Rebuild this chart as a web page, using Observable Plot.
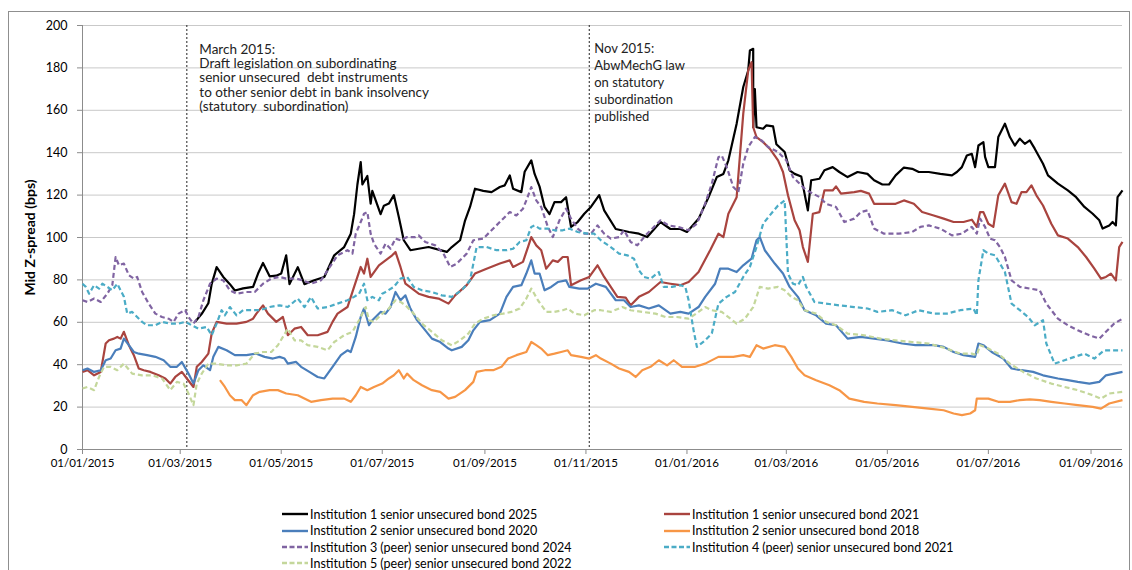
<!DOCTYPE html>
<html><head><meta charset="utf-8">
<script src="https://cdn.jsdelivr.net/npm/d3@7"></script>
<script src="https://cdn.jsdelivr.net/npm/@observablehq/plot@0.6"></script>
<style>
body{margin:0;background:#fff;font-family:Lato,sans-serif;}
#wrap{position:relative;width:1132px;height:570px;overflow:hidden;background:#fff;}
#frame{position:absolute;left:8px;top:11px;width:1122px;height:600px;border:1px solid #8f8f8f;box-sizing:border-box;}
#chart{position:absolute;left:0;top:0;}
#legend{position:absolute;left:0;top:0;width:1132px;height:570px;}
.item{position:absolute;font-size:12.5px;color:#000;white-space:nowrap;display:flex;align-items:center;height:16px;}
.item svg{margin-right:2px;}
#chart svg text{white-space:pre;}
#chart [aria-label="y-axis tick"], #chart [aria-label="x-axis tick"]{stroke:#8c8c8c;}
#chart [aria-label="y-axis label"]{font-weight:bold;font-size:14px;}
</style></head>
<body>
<div id="wrap"><div id="frame"></div><div id="chart"></div><div id="legend"></div></div>
<script>
// x positions are days since 01/01/2015, values are Mid Z-spread in bps
const startDate = "2015-01-01";
const endDay = 628;
const seriesNames = [
  "Institution 1 senior unsecured bond 2025",
  "Institution 1 senior unsecured bond 2021",
  "Institution 2 senior unsecured bond 2020",
  "Institution 2 senior unsecured bond 2018",
  "Institution 3 (peer) senior unsecured bond 2024",
  "Institution 4 (peer) senior unsecured bond 2021",
  "Institution 5 (peer) senior unsecured bond 2022"
];
const seriesColors = ["#000000","#a9443f","#4a7ebb","#f79646","#8064a2","#4bacc6","#c4d79b"];
const seriesDashed = [false,false,false,false,true,true,true];

const inst1_2025 = [[68,60.2],[72,64],[76,69],[78,78],[81,86],[85,81.4],[89,78],[92,75],[97,76],[103,76.7],[106,83],[109,88],[113,81.7],[117,82],[120,83],[123,91.6],[125,78],[130,86],[134,78],[140,79.8],[146,81.4],[152,91.6],[158,95.5],[162,101.8],[164,111],[166,125],[168,135.6],[169,125],[172,129],[174,116],[175,122],[180,111],[182,115],[185,116],[188,120],[191,109.7],[194,98.7],[198,94],[203,94.7],[209,95.5],[215,94.3],[220,93.2],[223,95.5],[228,98.7],[231,108],[234,114.4],[237,123],[242,122],[247,121.4],[252,123.8],[255,124.6],[258,129.3],[260,123],[265,121.4],[267,131],[271,136.4],[273,130],[276,124],[279,114.4],[282,111],[285,116.7],[289,116.7],[292,119],[295,105],[299,107.3],[303,111.2],[307,114.4],[312,120],[315,112.8],[322,104],[330,102.6],[336,101.8],[341,100.2],[349,107.3],[355,104],[361,104],[365,102.6],[372,108.8],[378,119],[383,128.5],[387,130],[390,136.4],[395,153.7],[399,171],[402,178.8],[403,188.2],[405,189],[405,152],[406,170],[407,152],[411,151.3],[413,152.9],[417,152.4],[419,144],[424,140.3],[427,131.7],[430,130],[434,128.8],[436,120.7],[438,112.8],[440,127],[445,127.7],[448,131.7],[453,133.2],[457,130.9],[462,128.5],[468,130.9],[474,130],[478,127],[483,125],[487,125],[491,129.3],[496,133],[501,132.4],[505,130.9],[511,130.9],[518,130],[525,129.3],[528,130.9],[531,133.2],[534,138.7],[537,139.5],[539,133.2],[541,143.4],[544,145],[545,138],[547,133.2],[551,133.2],[553,147.4],[557,153.7],[560,147.4],[563,143.4],[566,146.6],[569,144.2],[572,145.8],[575,141.9],[580,134.8],[583,129.3],[589,125.4],[595,122.2],[600,119],[605,114.4],[610,111.2],[614,108.1],[616,104.2],[620,105.7],[622,107.3],[624,105.7],[625,119],[628,122.2]];

const inst1_2021 = [[0,36.6],[3,37.4],[7,35],[11,36.6],[14,50],[16,51.5],[19,52.3],[21,53.1],[23,52.3],[25,55.5],[28,49.2],[31,44.5],[34,38.2],[37,37.4],[41,36.6],[46,35],[50,33.5],[53,31.1],[56,34.2],[60,36.6],[63,33.5],[67,29.5],[69,39],[72,41.3],[76,45.2],[78,54.7],[81,60.2],[87,59.4],[93,59.4],[99,60.2],[103,61.7],[105,64.1],[109,68],[112,64.1],[117,60.2],[121,62.5],[124,53.9],[128,57],[132,57.8],[136,53.9],[142,53.9],[148,55.5],[151,60.2],[154,64.1],[160,67.2],[164,76.7],[168,86.1],[170,83],[172,90],[174,81.4],[179,86.9],[183,89.2],[187,91.6],[189,93.2],[192,86.1],[195,78.2],[199,75.9],[203,73.5],[209,72],[215,71.2],[221,68.8],[225,72.7],[232,77.5],[237,83],[244,85.3],[252,87.7],[258,89.2],[260,86.1],[266,88.5],[269,95.5],[271,100.2],[274,96.3],[277,94],[280,85.3],[284,89.2],[287,88.5],[290,90.8],[293,90.8],[295,77.5],[301,79.8],[306,81.4],[311,86.9],[315,81.4],[319,76.7],[323,72],[328,71.6],[331,68],[336,72],[342,74.3],[349,79],[355,78.2],[361,77.5],[366,79],[372,83.7],[379,94],[384,101.8],[387,100.2],[390,111.2],[395,119],[399,158.4],[402,178.8],[404,182.7],[405,152],[407,147.4],[411,145],[415,141.9],[420,136.4],[423,130.9],[426,119.9],[430,108.1],[433,103.4],[435,95.5],[438,88.5],[441,111.2],[445,112],[448,122.2],[453,122.2],[455,124.1],[458,120.7],[466,121.4],[470,122],[475,120.7],[478,115.9],[484,115.9],[491,115.9],[496,117.5],[502,115.9],[507,112],[514,110.4],[520,108.9],[526,107.3],[532,107.3],[537,108.4],[540,105],[542,112],[544,112],[547,106.5],[550,105],[553,119.9],[557,125.4],[561,116.7],[564,115.9],[567,121.4],[570,121.4],[573,124.6],[576,119.9],[580,115.1],[585,106.5],[589,101],[595,99.5],[601,95.5],[606,90.8],[611,85.3],[615,80.6],[618,81.4],[621,83],[624,79.8],[626,95.5],[628,97.9]];

const inst2_2020 = [[0,37.4],[3,38.2],[7,36.6],[11,37.4],[14,42.1],[17,42.9],[20,46.8],[23,47.6],[25,52.3],[28,49.2],[31,46],[34,45.2],[39,44.5],[44,43.7],[49,42.1],[53,39],[57,39],[60,41.3],[64,35.8],[67,31.1],[70,37.4],[73,39.7],[77,37.4],[79,43.7],[82,48.4],[87,46.8],[92,44.5],[99,44.5],[105,45.2],[110,43.7],[115,42.9],[119,43.7],[122,42.9],[124,40.5],[129,41.3],[132,39],[137,36.6],[142,34.2],[146,33.5],[151,39],[156,44.5],[160,46.8],[162,46],[165,53.1],[168,62.5],[170,66.5],[173,58.6],[175,61],[180,64.9],[183,64.1],[186,67.2],[189,74.3],[192,70.4],[195,72.7],[198,66.5],[202,61],[207,56.2],[211,52.3],[216,50.7],[221,47.6],[223,46.8],[229,48.4],[233,51.5],[236,56.2],[240,60.2],[246,61],[252,64.1],[256,72],[260,76.7],[265,77.5],[268,83],[271,89.2],[273,83],[276,83],[279,75.1],[283,76.7],[287,79],[292,79.8],[294,76.7],[300,75.9],[305,75.9],[310,78.2],[316,76.7],[322,70.4],[327,70.4],[331,67.2],[336,68],[342,66.5],[348,68],[355,64.1],[361,64.9],[366,64.1],[372,67.2],[376,72],[382,78.2],[385,85.3],[390,85.3],[395,83.7],[399,86.9],[404,90],[407,98.7],[409,100.2],[412,94],[418,87.7],[423,83],[427,76.7],[432,72],[436,65.7],[443,63.3],[449,59.4],[455,58.6],[462,52.3],[470,53.1],[478,52.3],[486,51.5],[495,50],[503,49.2],[514,49.2],[520,48.4],[526,46],[532,44.5],[539,43.7],[541,50],[544,49.2],[549,46],[556,42.9],[561,38.2],[567,37.4],[574,36.6],[580,35],[589,33.5],[595,32.7],[601,31.9],[608,31.1],[614,31.9],[618,35],[623,35.8],[628,36.6]];

const inst2_2018 = [[83,32.7],[86,29.5],[89,25.6],[92,23.3],[96,23.3],[99,20.9],[103,25.6],[107,27.2],[113,28],[118,28],[123,26.4],[130,25.6],[138,22.5],[144,23.3],[151,24],[158,24],[162,22.5],[165,25.6],[168,29.5],[172,28],[176,29.5],[181,31.1],[185,33.5],[188,35],[191,37.4],[194,33.5],[196,35.8],[200,32.7],[205,30.3],[211,28],[216,27.2],[221,24],[225,24.8],[231,28],[236,31.9],[238,36.6],[243,37.4],[248,37.4],[253,39],[257,42.9],[262,44.5],[268,46],[271,50.7],[274,49.2],[277,47.6],[281,44.5],[285,45.2],[289,46],[293,46.8],[295,44.5],[301,43.7],[306,42.9],[310,44.5],[313,42.9],[319,40.5],[324,38.2],[330,36.6],[334,34.2],[338,37.4],[343,39],[348,42.1],[353,39.7],[357,42.1],[362,39],[370,39],[376,40.5],[384,43.7],[393,43.7],[399,44.5],[403,43.7],[407,49.2],[411,47.6],[418,49.2],[424,48.4],[428,43.7],[432,38.2],[436,35],[443,32.7],[451,30.3],[457,28],[463,24],[472,22.5],[480,21.7],[491,20.9],[501,20.1],[511,19.3],[520,18.5],[526,17],[531,16.2],[536,17],[539,18.5],[540,24],[547,24],[553,22.5],[560,22.5],[566,23.3],[572,23.6],[578,23.3],[585,22.5],[593,21.7],[601,20.9],[610,20.1],[615,19.3],[620,21.7],[628,23.3]];

const inst3_2024 = [[0,70.4],[3,69.6],[7,71.2],[11,69.6],[15,73.5],[18,77.5],[20,90.8],[22,86.9],[25,87.7],[28,82.2],[31,80.6],[33,81.4],[36,74.3],[40,68.8],[44,64.1],[48,62.5],[52,61.7],[55,60.2],[58,64.1],[62,65.7],[64,62.5],[67,59.4],[70,62.5],[73,70.4],[77,78.2],[81,80.6],[85,79.8],[89,75.1],[93,73.5],[99,74.3],[104,74.3],[109,78.2],[114,80.6],[119,81.4],[123,80.6],[129,80.6],[133,79.8],[138,78.2],[144,79.8],[148,84.5],[154,91.6],[160,94],[163,92.4],[165,101.8],[168,107.3],[170,111.2],[172,112],[174,101.8],[176,97.1],[180,92.4],[183,97.1],[186,94.7],[189,99.5],[192,98.7],[196,100.2],[201,100.2],[203,101],[207,97.9],[213,96.3],[218,92.4],[222,86.1],[226,87.7],[232,92.4],[236,98.7],[242,99.5],[247,103.4],[253,108.1],[258,112],[262,110.4],[266,113.6],[268,117.5],[271,123.8],[274,117.5],[277,114.4],[281,105],[284,100.2],[288,108.1],[292,113.6],[295,108.9],[299,104.2],[303,101.8],[307,101.8],[311,105.7],[315,101.8],[319,99.5],[324,100.2],[327,103.4],[331,97.9],[335,96.3],[340,101],[346,105.7],[349,108.1],[354,105.7],[360,104.9],[366,103.4],[371,106.5],[376,116],[380,125.4],[384,137.9],[386,138.7],[389,133.2],[393,123.8],[396,121.4],[399,134.8],[402,142.7],[406,147.4],[410,145.8],[414,142.7],[420,140.3],[425,136.4],[429,128.5],[432,126.2],[436,123],[441,120.7],[445,119.1],[449,115.9],[455,114.4],[460,107.3],[466,108.9],[470,112],[474,112.8],[478,104.2],[484,101.8],[493,101.8],[501,102.6],[506,105],[511,105.7],[518,104.2],[525,101],[531,101.8],[537,105],[540,101.8],[542,108.9],[545,105],[548,99.5],[551,98.7],[554,95.5],[557,90.8],[561,79.8],[566,76.7],[572,75.9],[578,75.1],[582,68.8],[589,61.7],[595,58.6],[601,56.2],[608,53.9],[614,52.3],[618,55.5],[623,59.4],[628,61.7]];

const inst4_2021 = [[0,78.2],[2,76.7],[4,73.5],[7,77.5],[10,75.9],[12,78.2],[15,76.7],[18,75.1],[21,78.2],[25,72],[27,64.1],[30,64.9],[33,62.5],[36,60.2],[39,58.6],[44,58.6],[48,60.2],[53,59.4],[58,59.4],[62,60.2],[66,58.6],[70,57],[75,57.8],[78,53.9],[81,59.4],[84,65.7],[86,63.3],[89,67.2],[93,63.3],[97,65.7],[102,65.7],[107,65.7],[113,67.2],[119,68],[124,67.2],[130,71.2],[134,67.2],[138,71.9],[142,66.5],[148,67.2],[154,68.8],[160,70.4],[164,72],[167,73.5],[170,78.2],[172,70.4],[175,72],[179,70.4],[181,73.5],[183,74.3],[188,76.7],[192,80.6],[196,81.4],[200,76.7],[205,75.1],[211,74.3],[217,72.7],[223,72],[229,75.1],[234,79.8],[238,95.5],[244,95.5],[250,94],[256,94],[260,94.7],[264,97.9],[268,98.7],[271,105],[273,105.7],[276,104.2],[281,104.2],[285,103.4],[290,103.4],[294,104.2],[299,102.6],[305,101.8],[309,101.8],[313,98.7],[319,95.5],[324,92.4],[329,91.6],[333,90],[336,84.5],[339,81.4],[343,80.6],[348,83.7],[351,76.7],[356,76.7],[361,77.5],[364,76.7],[366,70.4],[369,56.2],[371,48.4],[376,51.5],[380,54.7],[384,68.8],[389,72],[394,74.3],[399,81.4],[403,86.1],[407,95.5],[411,106.5],[415,110.4],[420,115.1],[424,117.5],[426,83],[429,78.2],[432,77.5],[435,81.4],[437,76.7],[442,69.6],[449,68.8],[457,68],[466,67.2],[474,66.5],[480,64.9],[489,65.7],[497,63.3],[505,65.7],[514,64.1],[522,64.1],[530,65.7],[538,66.5],[540,63.3],[541,79.8],[544,94],[547,92.4],[551,91.6],[554,87.7],[557,83.7],[561,68.8],[566,65.7],[571,62.5],[575,58.6],[580,61],[582,50],[587,40.5],[593,42.1],[599,43.7],[605,45.2],[611,42.9],[617,46.8],[622,46.8],[628,46.8]];

const inst5_2022 = [[0,28.8],[3,29.5],[7,28],[10,34.2],[13,39],[17,39],[21,37.4],[25,40.5],[30,35.8],[36,35],[42,35],[48,33.5],[53,28],[57,31.9],[61,31.1],[64,26.4],[67,20.9],[69,31.1],[72,35.8],[76,40.5],[81,40.5],[87,39.7],[93,39.7],[99,40.5],[104,45.2],[109,46],[114,46],[118,49.2],[121,53.1],[124,57],[128,51.5],[132,51.5],[136,49.2],[142,48.4],[148,46.8],[152,50.7],[158,53.9],[163,55.5],[167,61],[171,67.2],[173,61],[176,60.2],[181,64.1],[185,66.5],[189,70.4],[192,69.6],[195,68],[200,64.1],[205,59.4],[211,55.5],[217,51.5],[223,49.2],[228,51.5],[233,54.7],[237,59.4],[242,61.7],[248,63.3],[254,64.1],[259,64.9],[264,66.5],[268,71.2],[271,75.9],[275,70.4],[280,64.9],[285,64.9],[290,65.7],[293,66.5],[297,64.1],[303,63.3],[309,65.7],[313,65.7],[319,64.9],[326,67.2],[331,65.7],[338,64.9],[346,64.1],[352,62.5],[359,62.5],[366,61.7],[372,64.9],[376,67.2],[380,65.7],[386,64.9],[395,59.4],[400,61.7],[405,67.2],[409,76.7],[414,75.9],[420,76.7],[424,75.1],[428,72],[432,70.4],[436,65.7],[443,64.1],[449,60.2],[455,58.6],[462,54.7],[472,53.9],[482,52.3],[491,51.5],[501,50.7],[511,50],[522,47.6],[530,45.2],[537,45.2],[540,44.5],[542,49.2],[547,47.6],[553,45.2],[560,40.5],[568,36.6],[576,33.5],[585,31.1],[593,29.5],[601,28],[610,25.6],[615,24],[620,26.4],[628,27.2]];

const seriesData = [inst1_2025, inst1_2021, inst2_2020, inst2_2018, inst3_2024, inst4_2021, inst5_2022];

const yTicks = [0,20,40,60,80,100,120,140,160,180,200];
const xTickDates = ["2015-01-01","2015-03-01","2015-05-01","2015-07-01","2015-09-01","2015-11-01","2016-01-01","2016-03-01","2016-05-01","2016-07-01","2016-09-01"];
const eventDates = ["2015-03-05","2015-11-03"];
const eventLabels = [
  "March 2015:\nDraft legislation on subordinating\nsenior unsecured  debt instruments\nto other senior debt in bank insolvency\n(statutory  subordination)",
  "Nov 2015:\nAbwMechG law\non statutory\nsubordination\npublished"
];

const start = new Date(startDate + "T00:00:00Z");
const toDate = d => d3.utcDay.offset(start, d);
const parse = s => new Date(s + "T00:00:00Z");

const lineMarks = seriesData.map((data, i) => Plot.line(data, {
  x: d => toDate(d[0]), y: d => d[1],
  stroke: seriesColors[i], strokeWidth: 2.2,
  strokeDasharray: seriesDashed[i] ? "5,3" : null,
  strokeLinejoin: "round", strokeLinecap: "butt"
}));

const events = eventDates.map((d, i) => ({date: parse(d), label: eventLabels[i]}));

const chart = Plot.plot({
  width: 1132, height: 485,
  marginLeft: 82, marginRight: 10, marginTop: 25, marginBottom: 36,
  style: {fontFamily: "Lato, sans-serif", fontSize: "12px", background: "transparent", overflow: "visible", color: "#000"},
  x: {type: "utc", domain: [start, toDate(endDay)]},
  y: {domain: [0, 200]},
  marks: [
    Plot.gridY(yTicks, {stroke: "#c9c9c9", strokeOpacity: 1, strokeWidth: 1}),
    Plot.ruleY([0], {stroke: "#8c8c8c"}),
    Plot.ruleX([start], {stroke: "#8c8c8c", y1: 0, y2: 200}),
    Plot.axisY({ticks: yTicks, tickSize: 5, tickPadding: 10, fontSize: 12.5,
      label: "Mid Z-spread (bps)", labelAnchor: "center", labelArrow: "none", labelOffset: 57}),
    Plot.axisX({ticks: xTickDates.map(parse), tickFormat: d3.utcFormat("%d/%m/%Y"),
      tickSize: 5, tickPadding: 4, fontSize: 11.5, label: null}),
    Plot.ruleX(events, {x: "date", stroke: "#222", strokeWidth: 1, strokeDasharray: "2,2"}),
    ...lineMarks,
    Plot.text(events.slice(0,1), {x: "date", text: "label", frameAnchor: "top", textAnchor: "start",
      lineAnchor: "top", dx: 12.5, dy: 18, lineHeight: 1.06, fontSize: 13.5, fill: "#222"}),
    Plot.text(events.slice(1), {x: "date", text: "label", frameAnchor: "top", textAnchor: "start",
      lineAnchor: "top", dx: 5, dy: 15, lineHeight: 1.31, fontSize: 13, fill: "#222"})
  ]
});
document.getElementById("chart").appendChild(chart);

// legend (two columns below the chart)
const legend = document.getElementById("legend");
const colX = [282, 664];
const rowY = [506, 522.5, 539, 555];
seriesNames.forEach((name, i) => {
  const item = document.createElement("div");
  item.className = "item";
  item.style.left = colX[i % 2] + "px";
  item.style.top = rowY[Math.floor(i / 2)] + "px";
  const dash = seriesDashed[i] ? 'stroke-dasharray="5,2.5"' : "";
  item.innerHTML = `<svg width="26" height="16"><line x1="0" x2="26" y1="8" y2="8" stroke="${seriesColors[i]}" stroke-width="2.4" ${dash}/></svg><span>${name}</span>`;
  legend.appendChild(item);
});
</script>
</body></html>
